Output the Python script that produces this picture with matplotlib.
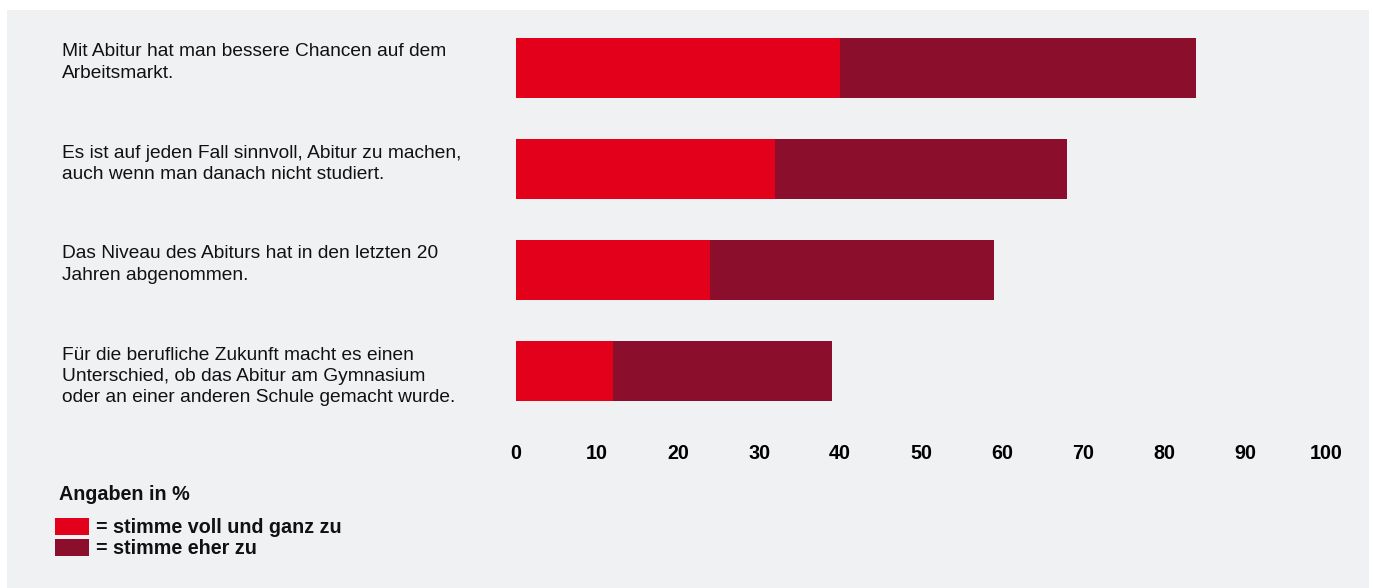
import matplotlib
matplotlib.use("Agg")
import matplotlib.pyplot as plt
from matplotlib.patches import Rectangle

categories = [
    "Mit Abitur hat man bessere Chancen auf dem\nArbeitsmarkt.",
    "Es ist auf jeden Fall sinnvoll, Abitur zu machen,\nauch wenn man danach nicht studiert.",
    "Das Niveau des Abiturs hat in den letzten 20\nJahren abgenommen.",
    "Für die berufliche Zukunft macht es einen\nUnterschied, ob das Abitur am Gymnasium\noder an einer anderen Schule gemacht wurde.",
]
voll = [40, 32, 24, 12]
eher = [44, 36, 35, 27]
ticks = [0, 10, 20, 30, 40, 50, 60, 70, 80, 90, 100]
legend_labels = ["= stimme voll und ganz zu", "= stimme eher zu"]
legend_title = "Angaben in %"

RED = "#e3001b"
DARK = "#8b0e2d"
BG = "#f0f1f3"

W, H = 1373, 588
fig = plt.figure(figsize=(W / 100, H / 100), dpi=100)
fig.patch.set_facecolor("white")
plt.rcParams["font.family"] = ["Liberation Sans", "DejaVu Sans"]

fig.patches.append(Rectangle((7 / W, 0), (1369 - 7) / W, (H - 10) / H,
                             transform=fig.transFigure, facecolor=BG,
                             edgecolor="none", zorder=-10))

def fx(px):
    return px / W

def fy(py):
    return 1 - py / H

ax_top, ax_bot = 18, 421
ax = fig.add_axes([fx(516), fy(ax_bot), (1326 - 516) / W, (ax_bot - ax_top) / H])
ax.set_facecolor("none")
ys = list(range(len(categories)))
ax.barh(ys, voll, height=60 / 101, color=RED, edgecolor="none")
ax.barh(ys, eher, left=voll, height=60 / 101, color=DARK, edgecolor="none")
ax.set_xlim(0, 100)
ax.set_ylim((ax_bot - 68) / 101, (ax_top - 68) / 101)
for s in ax.spines.values():
    s.set_visible(False)
ax.set_yticks([])
ax.set_xticks(ticks)
ax.set_xticklabels([str(t) for t in ticks], fontsize=14.2, fontweight="bold")
ax.tick_params(axis="x", length=0, pad=16.5)

# category labels
for i, c in enumerate(categories):
    top_px = 38 + 101 * i
    fig.text(fx(62), fy(top_px + 5.5), c, ha="left", va="top", fontsize=13.8,
             linespacing=1.33, color="#111111")

fig.text(fx(59), fy(494.5), legend_title, ha="left", va="center",
         fontsize=14.2, fontweight="bold", color="#111111")
for j, (lab, col) in enumerate(zip(legend_labels, [RED, DARK])):
    y0 = 518 + 21 * j
    fig.patches.append(Rectangle((fx(55), fy(y0 + 17)), 34 / W, 17 / H,
                                 transform=fig.transFigure, facecolor=col,
                                 edgecolor="none"))
    fig.text(fx(96), fy(y0 + 9.5), lab, ha="left", va="center",
             fontsize=14.2, fontweight="bold", color="#111111")

fig.savefig("out.png", dpi=100)
